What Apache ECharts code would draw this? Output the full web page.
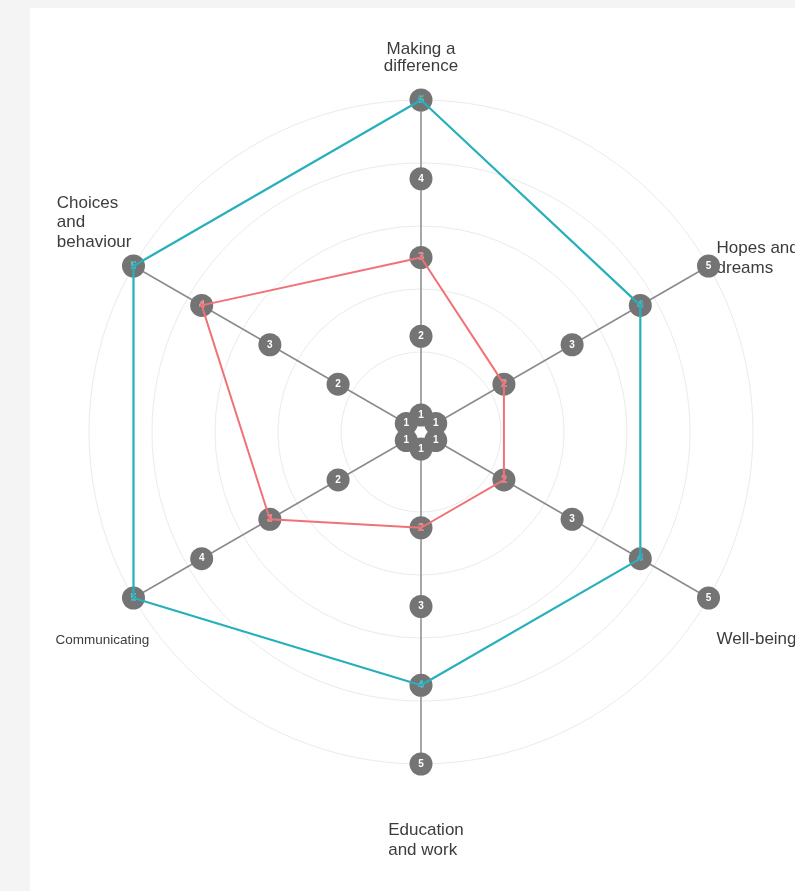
<!DOCTYPE html>
<html>
<head>
<meta charset="utf-8">
<script src="https://cdn.jsdelivr.net/npm/echarts@6/dist/echarts.min.js"></script>
<style>
  html, body { margin: 0; padding: 0; background: #f4f4f4; width: 795px; height: 891px; overflow: hidden; }
  #chart { position: absolute; left: 30px; top: 8px; width: 765px; height: 883px; background: #ffffff; }
</style>
</head>
<body>
<div id="chart"></div>
<script>
// ---- data ----
const indicatorNames = ['Making a difference', 'Choices and behaviour', 'Communicating', 'Education and work', 'Well-being', 'Hopes and dreams'];
const indicatorLabelLines = [['Making a', 'difference'], ['Choices', 'and', 'behaviour'], ['Communicating'], ['Education', 'and work'], ['Well-being'], ['Hopes and', 'dreams']];
const scaleMin = 1;
const scaleMax = 5;
const tickValues = [1, 2, 3, 4, 5];
const tealValues = [5, 5, 5, 4, 4, 4];
const redValues = [3, 4, 3, 2, 2, 2];

// ---- styles / layout ----
const CENTER = [391, 424];
const RADIUS = [17, 332];
const FONT = 'Liberation Sans, Arial, sans-serif';
const TEXT_COLOR = '#3c3c3c';
const labelLayouts = [
  { align: 'center', verticalAlign: 'bottom', padding: [0, 0, 25, 0], tokenAlign: 'center', lineHeight: 17, fontSize: 17 },
  { align: 'right', verticalAlign: 'bottom', padding: [0, 2, 14, 0], tokenAlign: 'left', lineHeight: 19.5, fontSize: 17 },
  { align: 'center', verticalAlign: 'top', padding: [32, 62, 0, 0], tokenAlign: 'left', lineHeight: 20, fontSize: 13.5 },
  { align: 'center', verticalAlign: 'top', padding: [56, 0, 0, 10], tokenAlign: 'left', lineHeight: 20, fontSize: 17 },
  { align: 'left', verticalAlign: 'top', padding: [31, 0, 0, 8], tokenAlign: 'left', lineHeight: 20, fontSize: 17 },
  { align: 'left', verticalAlign: 'middle', padding: [0, 0, 16, 8], tokenAlign: 'left', lineHeight: 20, fontSize: 17 }
];

const indicator = indicatorNames.map(n => ({ name: n, min: scaleMin, max: scaleMax }));

const mainRadar = {
  center: CENTER,
  radius: RADIUS,
  startAngle: 90,
  splitNumber: 5,
  shape: 'circle',
  indicator: indicator,
  axisName: { show: false },
  axisLine: { show: true, lineStyle: { color: '#8a8a8a', width: 1.5 } },
  splitLine: { show: true, lineStyle: { color: '#ebebeb', width: 1 } },
  splitArea: { show: false },
  axisTick: { show: false },
  axisLabel: { show: false }
};

const labelRadars = indicatorNames.map((target, i) => {
  const L = labelLayouts[i];
  const lines = indicatorLabelLines[i];
  return {
    center: CENTER,
    radius: RADIUS,
    startAngle: 90,
    splitNumber: 5,
    shape: 'circle',
    indicator: indicator,
    nameGap: 0,
    axisLine: { show: false },
    splitLine: { show: false },
    splitArea: { show: false },
    axisTick: { show: false },
    axisLabel: { show: false },
    axisName: {
      show: true,
      color: TEXT_COLOR,
      fontFamily: FONT,
      fontSize: L.fontSize,
      lineHeight: L.lineHeight,
      align: L.align,
      verticalAlign: L.verticalAlign,
      padding: L.padding,
      rich: {
        t: {
          color: TEXT_COLOR,
          fontFamily: FONT,
          fontSize: L.fontSize,
          lineHeight: L.lineHeight,
          align: L.tokenAlign
        }
      },
      formatter: function (name) {
        if (name !== target) return '';
        return lines.map(s => '{t|' + s + '}').join('\n');
      }
    }
  };
});

const markerSeries = {
  type: 'radar',
  name: 'scale',
  radarIndex: 0,
  z: 2,
  symbol: 'circle',
  symbolSize: 23,
  silent: true,
  itemStyle: { color: '#747474' },
  lineStyle: { width: 0, opacity: 0 },
  label: { show: true, position: 'inside', color: '#ffffff', fontSize: 10, fontWeight: 'bold', fontFamily: FONT },
  data: tickValues.map(v => ({ name: 'level ' + v, value: indicatorNames.map(() => v) }))
};

function valueSeries(name, values, color, width) {
  return {
    type: 'radar',
    name: name,
    radarIndex: 0,
    z: 3,
    symbol: 'circle',
    symbolSize: 23,
    itemStyle: { color: 'rgba(0,0,0,0)' },
    lineStyle: { color: color, width: width },
    label: { show: true, position: 'inside', color: color, fontSize: 10, fontWeight: 'bold', fontFamily: FONT },
    data: [{ name: name, value: values }]
  };
}

const chart = echarts.init(document.getElementById('chart'));
chart.setOption({
  animation: false,
  backgroundColor: '#ffffff',
  radar: [mainRadar].concat(labelRadars),
  series: [
    markerSeries,
    valueSeries('Second assessment', redValues, '#f07277', 2),
    valueSeries('First assessment', tealValues, '#27b0bb', 2.2)
  ]
});
</script>
</body>
</html>
